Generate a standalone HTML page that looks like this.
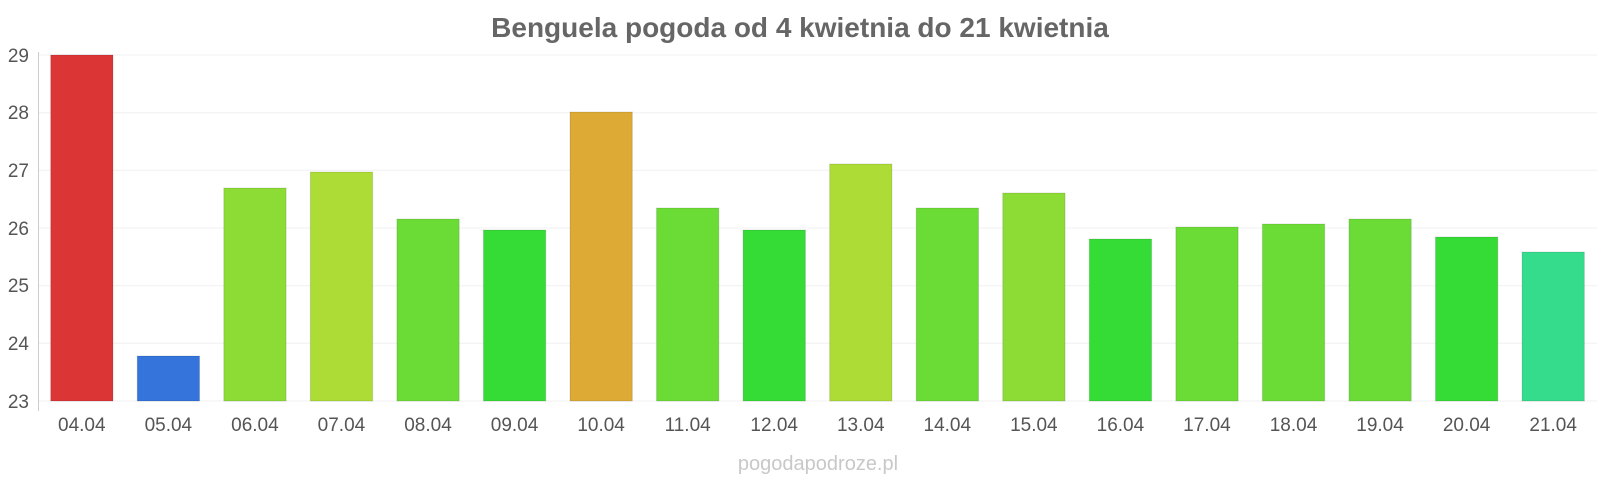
<!DOCTYPE html><html><head><meta charset="utf-8"><style>body{margin:0;background:#fff}svg{display:block}</style></head><body>
<svg width="1600" height="480" xmlns="http://www.w3.org/2000/svg" font-family="Liberation Sans, sans-serif">
<text x="800" y="37" text-anchor="middle" font-size="28" font-weight="bold" fill="#666">Benguela pogoda od 4 kwietnia do 21 kwietnia</text>
<g stroke="#f0f0f0" stroke-width="1">
<line x1="38" x2="1597" y1="55" y2="55"/><line x1="38" x2="1597" y1="112.7" y2="112.7"/><line x1="38" x2="1597" y1="170.3" y2="170.3"/><line x1="38" x2="1597" y1="228" y2="228"/><line x1="38" x2="1597" y1="285.7" y2="285.7"/><line x1="38" x2="1597" y1="343.3" y2="343.3"/><line x1="38" x2="1597" y1="401" y2="401"/>
</g>
<line x1="38.5" x2="38.5" y1="52" y2="411" stroke="#ccc"/>
<g font-size="19" fill="#555" text-anchor="end">
<text x="29" y="62">29</text><text x="29" y="119">28</text><text x="29" y="177">27</text><text x="29" y="235">26</text><text x="29" y="292">25</text><text x="29" y="350">24</text><text x="29" y="408">23</text>
</g>
<g stroke-width="1" id="bars"></g>
<g font-size="19" fill="#555" text-anchor="middle" id="labels"></g>
<text x="818" y="470" text-anchor="middle" font-size="20" fill="#c8c8c8">pogodapodroze.pl</text>
<script>
var tops=[55,356,188,172,219,230,112,208,230,164,208,193,239,227,224,219,237,252];
var cols=["#dc3535","#3474db","#8cdc35","#acdc35","#6adc35","#35dc35","#dcaa35","#6adc35","#35dc35","#acdc35","#6adc35","#8cdc35","#35dc35","#6adc35","#6adc35","#6adc35","#35dc35","#35dc8c"];
var b=document.getElementById('bars'),l=document.getElementById('labels'),ns="http://www.w3.org/2000/svg";
for(var i=0;i<18;i++){var x=38.5+i*86.55;var r=document.createElementNS(ns,'rect');
r.setAttribute('x',x+12.2);r.setAttribute('y',tops[i]);r.setAttribute('width',62.3);r.setAttribute('height',401-tops[i]);
r.setAttribute('fill',cols[i]);r.setAttribute('stroke','rgba(0,0,0,0.12)');b.appendChild(r);
var t=document.createElementNS(ns,'text');t.setAttribute('x',x+43.3);t.setAttribute('y',431);
t.textContent=String(i+4).padStart(2,'0')+'.04';l.appendChild(t);}
</script>
</svg></body></html>
